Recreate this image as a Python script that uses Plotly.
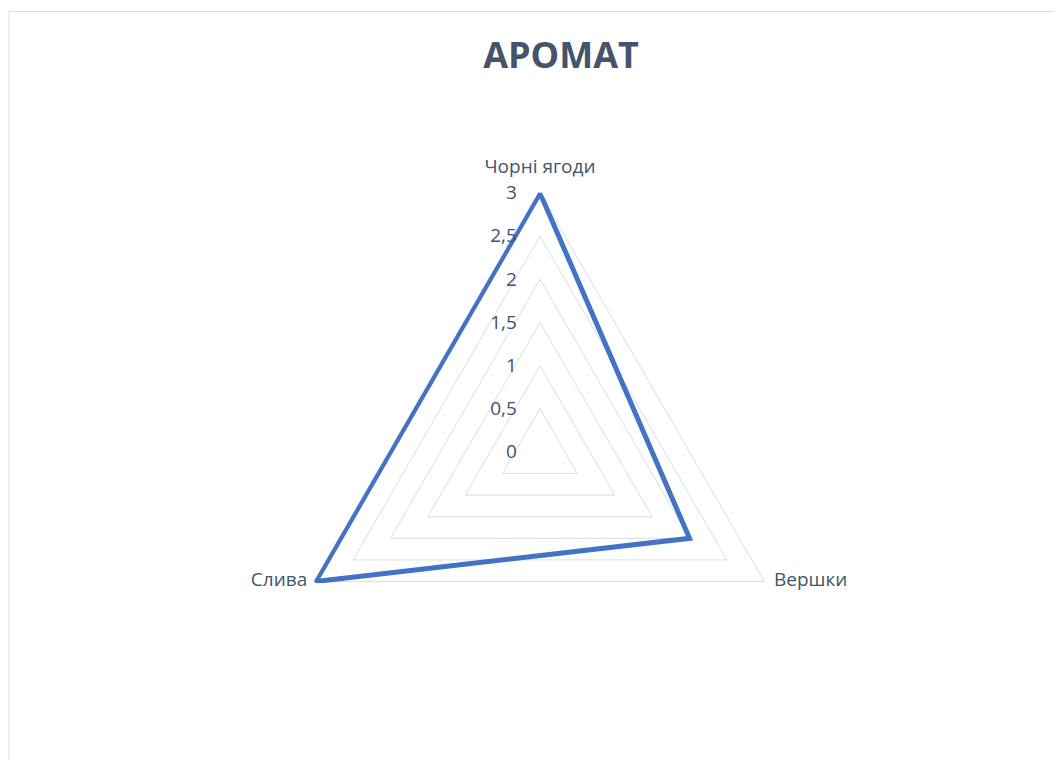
import plotly.graph_objects as go

categories = ["Чорні ягоди", "Вершки", "Слива"]
values = [3, 2, 3]
tick_vals = [0, 0.5, 1, 1.5, 2, 2.5, 3]
tick_text = ["0", "0,5", "1", "1,5", "2", "2,5", "3"]
title_text = "АРОМАТ"

W, H = 1062, 760
# page body has an 8px margin, so layout coords are screen coords minus 8
cx, cy, R3 = 532, 444, 259
rmax = 3.04                      # a little headroom so the thick line is not clipped
R = R3 * rmax / 3

label_pos = ["top center", "middle right", "middle left"]
label_pad = [22, 14, 12]

fig = go.Figure()
fig.add_trace(go.Scatterpolar(
    r=values + values[:1],
    theta=categories + categories[:1],
    mode="lines",
    line=dict(color="#4472C4", width=5),
    showlegend=False,
    hoverinfo="skip",
))
# category labels at the outer ring
fig.add_trace(go.Scatterpolar(
    r=[max(tick_vals)] * len(categories),
    theta=categories,
    mode="markers+text",
    text=categories,
    textposition=label_pos,
    marker=dict(size=label_pad, opacity=0),
    textfont=dict(size=19, color="#44546A"),
    cliponaxis=False,
    showlegend=False,
    hoverinfo="skip",
))

grid_color = "#D9DDE6"
txt_color = "#44546A"
fig.update_layout(
    width=W, height=H,
    margin=dict(l=0, r=0, t=0, b=0),
    paper_bgcolor="white",
    plot_bgcolor="white",
    separators=", ",
    font=dict(family="Open Sans, Liberation Sans, sans-serif", size=19, color=txt_color),
    title=dict(text=title_text, x=553 / W, xanchor="center", y=1 - 47 / H, yanchor="middle",
               font=dict(size=36, color=txt_color, family="Open Sans, sans-serif", weight="bold")),
    polar=dict(
        domain=dict(x=[(cx - R) / W, (cx + R) / W], y=[(H - cy - R) / H, (H - cy + R) / H]),
        gridshape="linear",
        bgcolor="white",
        radialaxis=dict(
            range=[0, rmax], tickvals=tick_vals, ticktext=tick_text,
            angle=90, tickangle=90, side="counterclockwise", showline=False,
            ticks="outside", ticklen=16, tickcolor="rgba(0,0,0,0)",
            gridcolor=grid_color, gridwidth=1,
            tickfont=dict(size=19, color=txt_color),
        ),
        angularaxis=dict(
            direction="clockwise", rotation=90,
            showgrid=False, showline=False, showticklabels=False, ticks="",
        ),
    ),
    shapes=[dict(type="rect", xref="paper", yref="paper",
                 x0=1 / W, x1=1.05, y0=-0.05, y1=1 - 3.5 / H,
                 line=dict(color="#D9D9D9", width=1), fillcolor="rgba(0,0,0,0)", layer="below")],
)

fig.write_html("out.html")
